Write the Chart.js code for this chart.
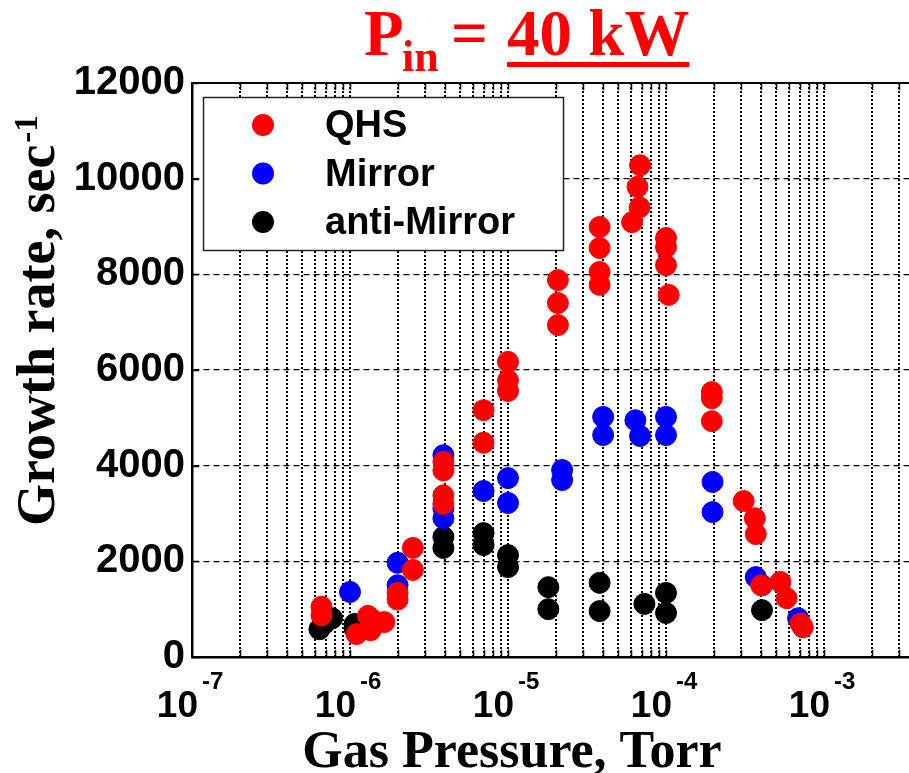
<!DOCTYPE html>
<html>
<head>
<meta charset="utf-8">
<script src="https://cdn.jsdelivr.net/npm/chart.js@4"></script>
<style>
  html, body { margin: 0; padding: 0; background: #ffffff; }
  #wrap { width: 909px; height: 773px; position: relative; }
</style>
</head>
<body>
<div id="wrap"><canvas id="growth" width="909" height="773"></canvas></div>
<script>
// Gas pressure (Torr) and growth rate (1/s) for each configuration
const qhsPressure = [6.6e-7, 6.6e-7, 1.1e-6, 1.3e-6, 1.4e-6, 1.35e-6, 1.65e-6, 2.0e-6, 2.0e-6, 2.5e-6, 2.5e-6,
  3.9e-6, 3.9e-6, 3.9e-6, 3.9e-6, 7.0e-6, 7.0e-6, 1.0e-5, 1.0e-5, 1.0e-5, 2.07e-5, 2.07e-5, 2.07e-5,
  3.8e-5, 3.8e-5, 3.8e-5, 3.8e-5, 6.85e-5, 6.6e-5, 6.8e-5, 6.1e-5, 1.0e-4, 1.0e-4, 1.0e-4, 1.04e-4,
  1.95e-4, 1.95e-4, 1.95e-4, 3.1e-4, 3.65e-4, 3.7e-4, 4.0e-4, 5.3e-4, 5.8e-4, 7.1e-4, 7.35e-4];
const qhsRate = [1050, 870, 480, 860, 770, 560, 730, 1340, 1200, 2280, 1820,
  4080, 3900, 3380, 3200, 5160, 4480, 6170, 5780, 5560, 7880, 7400, 6940,
  8990, 8550, 8050, 7780, 10280, 9830, 9400, 9090, 8760, 8570, 8190, 7570,
  5540, 5410, 4930, 3260, 2900, 2570, 1500, 1570, 1230, 700, 620];

const mirrorPressure = [1.0e-6, 2.0e-6, 2.0e-6, 3.9e-6, 3.9e-6, 3.9e-6, 7.0e-6, 1.0e-5, 1.0e-5, 2.2e-5, 2.2e-5,
  4.0e-5, 4.0e-5, 6.4e-5, 6.85e-5, 1.0e-4, 1.0e-4, 1.97e-4, 1.97e-4, 3.7e-4, 4.05e-4, 6.85e-4];
const mirrorRate = [1360, 1970, 1500, 4220, 3110, 2900, 3470, 3740, 3220, 3910, 3700,
  5020, 4640, 4950, 4620, 5020, 4640, 3660, 3030, 1670, 1500, 810];

const antiMirrorPressure = [6.4e-7, 6.9e-7, 7.7e-7, 1.07e-6, 1.07e-6, 3.9e-6, 3.9e-6, 7.0e-6, 7.0e-6, 1.0e-5, 1.0e-5,
  1.8e-5, 1.8e-5, 3.8e-5, 3.8e-5, 7.3e-5, 1.0e-4, 1.0e-4, 4.05e-4];
const antiMirrorRate = [580, 700, 810, 690, 590, 2510, 2280, 2590, 2340, 2130, 1880,
  1460, 1000, 1550, 960, 1110, 1340, 920, 980];

const seriesNames = ['QHS', 'Mirror', 'anti-Mirror'];
const seriesColors = ['#ff0000', '#0000ff', '#000000'];

// Axis ranges and labels
const pressureMin = 1e-7;
const pressureMax = 3.45e-3;
const decadeExponents = [-7, -6, -5, -4, -3];
const rateTicks = [0, 2000, 4000, 6000, 8000, 10000, 12000];

const toPoints = (xs, ys) => xs.map((x, i) => ({ x: x, y: ys[i] }));

const SANS = '"Liberation Sans", Arial, sans-serif';
const SERIF = '"Liberation Serif", "Times New Roman", serif';

// Titles, decade labels, inward tick marks, plot frame and legend box
const decorations = {
  id: 'decorations',
  afterDraw(chart) {
    const ctx = chart.ctx;
    const area = chart.chartArea;
    const xs = chart.scales.x;
    const ys = chart.scales.y;
    ctx.save();

    // inward ticks
    ctx.strokeStyle = '#000';
    ctx.lineWidth = 1.5;
    ctx.setLineDash([]);
    xs.ticks.forEach(t => {
      const px = Math.round(xs.getPixelForValue(t.value)) + 0.5;
      if (px <= area.left + 1) return;
      ctx.beginPath();
      ctx.moveTo(px, area.bottom); ctx.lineTo(px, area.bottom - 7);
      ctx.moveTo(px, area.top); ctx.lineTo(px, area.top + 7);
      ctx.stroke();
    });
    rateTicks.forEach(v => {
      const py = Math.round(ys.getPixelForValue(v)) + 0.5;
      ctx.beginPath();
      ctx.moveTo(area.left, py); ctx.lineTo(area.left + 7, py);
      ctx.stroke();
    });

    // top frame line
    ctx.lineWidth = 2;
    ctx.beginPath();
    ctx.moveTo(area.left, area.top); ctx.lineTo(area.right, area.top);
    ctx.stroke();

    // decade labels 10^n on the pressure axis
    ctx.fillStyle = '#000';
    ctx.textBaseline = 'alphabetic';
    decadeExponents.forEach(e => {
      const px = xs.getPixelForValue(Math.pow(10, e));
      ctx.font = 'bold 37px ' + SANS;
      ctx.textAlign = 'right';
      ctx.fillText('10', px + 6, 717);
      ctx.font = 'bold 24px ' + SANS;
      ctx.textAlign = 'left';
      ctx.fillText(String(e), px + 10, 689);
    });

    // axis titles
    ctx.font = 'bold 52px ' + SERIF;
    ctx.textAlign = 'center';
    ctx.fillText('Gas Pressure, Torr', 512, 767);

    ctx.save();
    ctx.translate(54, 526);
    ctx.rotate(-Math.PI / 2);
    ctx.textAlign = 'left';
    ctx.font = 'bold 54px ' + SERIF;
    const main = 'Growth rate, sec';
    ctx.fillText(main, 0, 0);
    const w = ctx.measureText(main).width;
    ctx.font = 'bold 33px ' + SERIF;
    ctx.fillText('-1', w + 2, -17);
    ctx.restore();

    // heading
    ctx.fillStyle = '#ff0000';
    ctx.textAlign = 'left';
    ctx.font = 'bold 65px ' + SERIF;
    ctx.fillText('P', 364, 55);
    ctx.font = 'bold 44px ' + SERIF;
    ctx.fillText('in', 402, 71);
    ctx.font = 'bold 65px ' + SERIF;
    ctx.fillText('=', 451, 55);
    const power = '40 kW';
    ctx.fillText(power, 507, 55);
    const pw = ctx.measureText(power).width;
    ctx.fillRect(507, 62, pw, 5);

    // legend
    const box = { x: 203.5, y: 97.5, w: 360, h: 153 };
    ctx.fillStyle = '#ffffff';
    ctx.fillRect(box.x, box.y, box.w, box.h);
    ctx.strokeStyle = '#222';
    ctx.lineWidth = 1.5;
    ctx.strokeRect(box.x, box.y, box.w, box.h);
    ctx.font = 'bold 38px ' + SANS;
    ctx.textBaseline = 'middle';
    chart.data.datasets.forEach((ds, i) => {
      const cy = 125 + i * 48.5;
      ctx.fillStyle = ds.backgroundColor;
      ctx.beginPath();
      ctx.arc(263, cy, 11, 0, Math.PI * 2);
      ctx.fill();
      ctx.fillStyle = '#000';
      ctx.fillText(ds.label, 325, cy + 2);
    });

    ctx.restore();
  }
};

const datasets = [
  toPoints(qhsPressure, qhsRate),
  toPoints(mirrorPressure, mirrorRate),
  toPoints(antiMirrorPressure, antiMirrorRate)
].map((pts, i) => ({
  label: seriesNames[i],
  data: pts,
  backgroundColor: seriesColors[i],
  borderColor: seriesColors[i],
  borderWidth: 1,
  pointRadius: 10.5,
  pointHoverRadius: 10.5,
  showLine: false
}));

new Chart(document.getElementById('growth'), {
  type: 'scatter',
  data: { datasets: datasets },
  options: {
    responsive: false,
    animation: false,
    devicePixelRatio: 1,
    events: [],
    layout: { autoPadding: false, padding: { top: 83, left: 0, right: 0, bottom: 0 } },
    plugins: {
      legend: { display: false },
      tooltip: { enabled: false },
      title: { display: false }
    },
    scales: {
      x: {
        type: 'logarithmic',
        min: pressureMin,
        max: pressureMax,
        afterBuildTicks(scale) {
          const ticks = [];
          decadeExponents.forEach(e => {
            for (let m = 1; m <= 9; m++) {
              const v = m * Math.pow(10, e);
              if (v >= pressureMin && v <= pressureMax) ticks.push({ value: v, major: m === 1 });
            }
          });
          scale.ticks = ticks;
        },
        afterFit(scale) { scale.height = 116; },
        ticks: { display: false },
        grid: { color: '#000', lineWidth: 2, drawTicks: false },
        border: { display: true, color: '#000', width: 2.5, dash: [2, 2] }
      },
      y: {
        min: 0,
        max: 12000,
        afterBuildTicks(scale) { scale.ticks = rateTicks.map(v => ({ value: v })); },
        afterFit(scale) { scale.width = 192; },
        ticks: {
          color: '#000',
          padding: 7,
          font: { family: SANS, size: 40, weight: 'bold' },
          callback: v => String(v)
        },
        grid: { color: '#000', lineWidth: 1.3, drawTicks: false },
        border: { display: true, color: '#000', width: 2.5, dash: [6, 4] }
      }
    }
  },
  plugins: [decorations]
});
</script>
</body>
</html>
